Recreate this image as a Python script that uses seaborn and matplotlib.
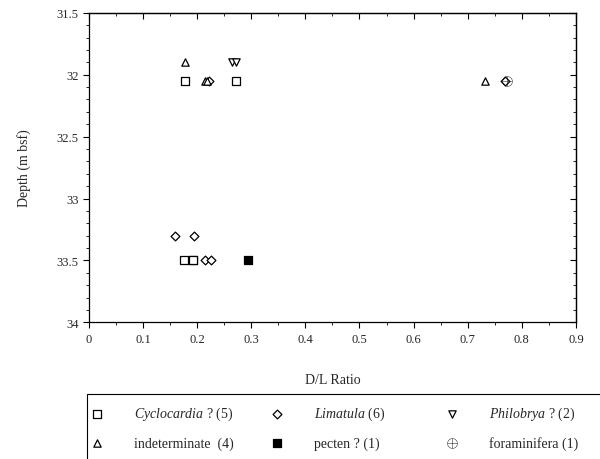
import numpy as np
import pandas as pd
import matplotlib
matplotlib.use('Agg')
import matplotlib.pyplot as plt
import seaborn as sns
from matplotlib.patches import Rectangle
from matplotlib.ticker import MultipleLocator, FuncFormatter

# ── Data ─────────────────────────────────────────────────────
cyclo_x = [0.178, 0.272, 0.175, 0.192, 0.192]
cyclo_y = [32.05, 32.05, 33.5, 33.5, 33.5]

lima_x = [0.16, 0.195, 0.215, 0.225, 0.222, 0.768]
lima_y = [33.3, 33.3, 33.5, 33.5, 32.05, 32.05]

philo_x = [0.265, 0.272]
philo_y = [31.9, 31.9]

indet_x = [0.177, 0.215, 0.732, 0.218]
indet_y = [31.9, 32.05, 32.05, 32.05]

pecten_x = [0.295]
pecten_y = [33.5]

foram_x = [0.773]
foram_y = [32.05]

labels = [r'$\it{Cyclocardia}$ ? (5)', r'$\it{Limatula}$ (6)', r'$\it{Philobrya}$ ? (2)',
          'indeterminate  (4)', 'pecten ? (1)', 'foraminifera (1)']

sns.set_style("ticks")
plt.rcParams['font.family'] = ['Liberation Serif', 'DejaVu Serif']
plt.rcParams['mathtext.fontset'] = 'custom'
plt.rcParams['mathtext.it'] = 'Liberation Serif:italic'
plt.rcParams['mathtext.rm'] = 'Liberation Serif'

fig = plt.figure(figsize=(6, 4.6), dpi=100)
ax = fig.add_axes([0.148, 0.297, 0.812, 0.673])

groups = [
    (cyclo_x, cyclo_y, 's', 'white', labels[0]),
    (lima_x, lima_y, 'D', 'white', labels[1]),
    (philo_x, philo_y, 'v', 'white', labels[2]),
    (indet_x, indet_y, '^', 'white', labels[3]),
    (pecten_x, pecten_y, 's', 'black', labels[4]),
    (foram_x, foram_y, r'$\oplus$', 'black', labels[5]),
]

handles = {}
for xs, ys, mk, fc, lab in groups:
    d = pd.DataFrame({'x': xs, 'y': ys})
    if mk.startswith('$'):
        sns.scatterplot(data=d, x='x', y='y', marker=mk, color='black', s=55,
                        linewidth=0, ax=ax, legend=False)
    else:
        size = 28 if mk in ('s', '^', 'v') else 20
        sns.scatterplot(data=d, x='x', y='y', marker=mk, facecolor=fc, edgecolor='black',
                        s=size, linewidth=0.9, ax=ax, legend=False)
    handles[lab] = ax.collections[-1]

ax.set_xlim(0, 0.9)
ax.set_ylim(34, 31.5)
ax.xaxis.set_major_locator(MultipleLocator(0.1))
ax.xaxis.set_minor_locator(MultipleLocator(0.05))
ax.yaxis.set_major_locator(MultipleLocator(0.5))
ax.yaxis.set_minor_locator(MultipleLocator(0.1))
ax.xaxis.set_major_formatter(FuncFormatter(lambda v, p: f'{round(v, 2):g}'))
ax.yaxis.set_major_formatter(FuncFormatter(lambda v, p: f'{round(v, 2):g}'))
# bottom/left ticks point out, top/right ticks point in
ax.tick_params(which='both', direction='out', labelsize=9, color='black')
ax.tick_params(which='major', length=4, width=0.8)
ax.tick_params(which='minor', length=2.5, width=0.6)
ax2 = ax.secondary_xaxis('top')
ax3 = ax.secondary_yaxis('right')
for sec in (ax2, ax3):
    sec.tick_params(which='both', direction='in', labelsize=0, color='black')
    sec.tick_params(which='major', length=4, width=0.8)
    sec.tick_params(which='minor', length=2.5, width=0.6)
ax2.xaxis.set_major_locator(MultipleLocator(0.1))
ax2.xaxis.set_minor_locator(MultipleLocator(0.05))
ax3.yaxis.set_major_locator(MultipleLocator(0.5))
ax3.yaxis.set_minor_locator(MultipleLocator(0.1))
ax2.set_xticklabels([])
ax3.set_yticklabels([])
for sec in (ax2, ax3):
    for s in sec.spines.values():
        s.set_linewidth(0.9)
for s in ax.spines.values():
    s.set_linewidth(0.9)
    s.set_color('black')

ax.set_xlabel('D/L Ratio', fontsize=10, labelpad=20)
ax.set_ylabel('Depth (m bsf)', fontsize=10, labelpad=18)

# ── Legend: box runs off the right/bottom edge, one legend per column ──
fig.patches.append(Rectangle((87 / 600, -0.05), 0.98, 0.05 + (460 - 395) / 460,
                             transform=fig.transFigure, fill=False,
                             edgecolor='black', linewidth=0.8))
col_x = [90, 270, 445]
cols = [(labels[0], labels[3]), (labels[1], labels[4]), (labels[2], labels[5])]
for x0, pair in zip(col_x, cols):
    fig.legend([handles[l] for l in pair], pair, loc='upper left',
               bbox_to_anchor=(x0 / 600, 1 - 406 / 460), fontsize=10,
               frameon=False, handlelength=1.0, handletextpad=2.2,
               borderaxespad=0, borderpad=0, labelspacing=1.0)

fig.savefig('out.png', dpi=100)
